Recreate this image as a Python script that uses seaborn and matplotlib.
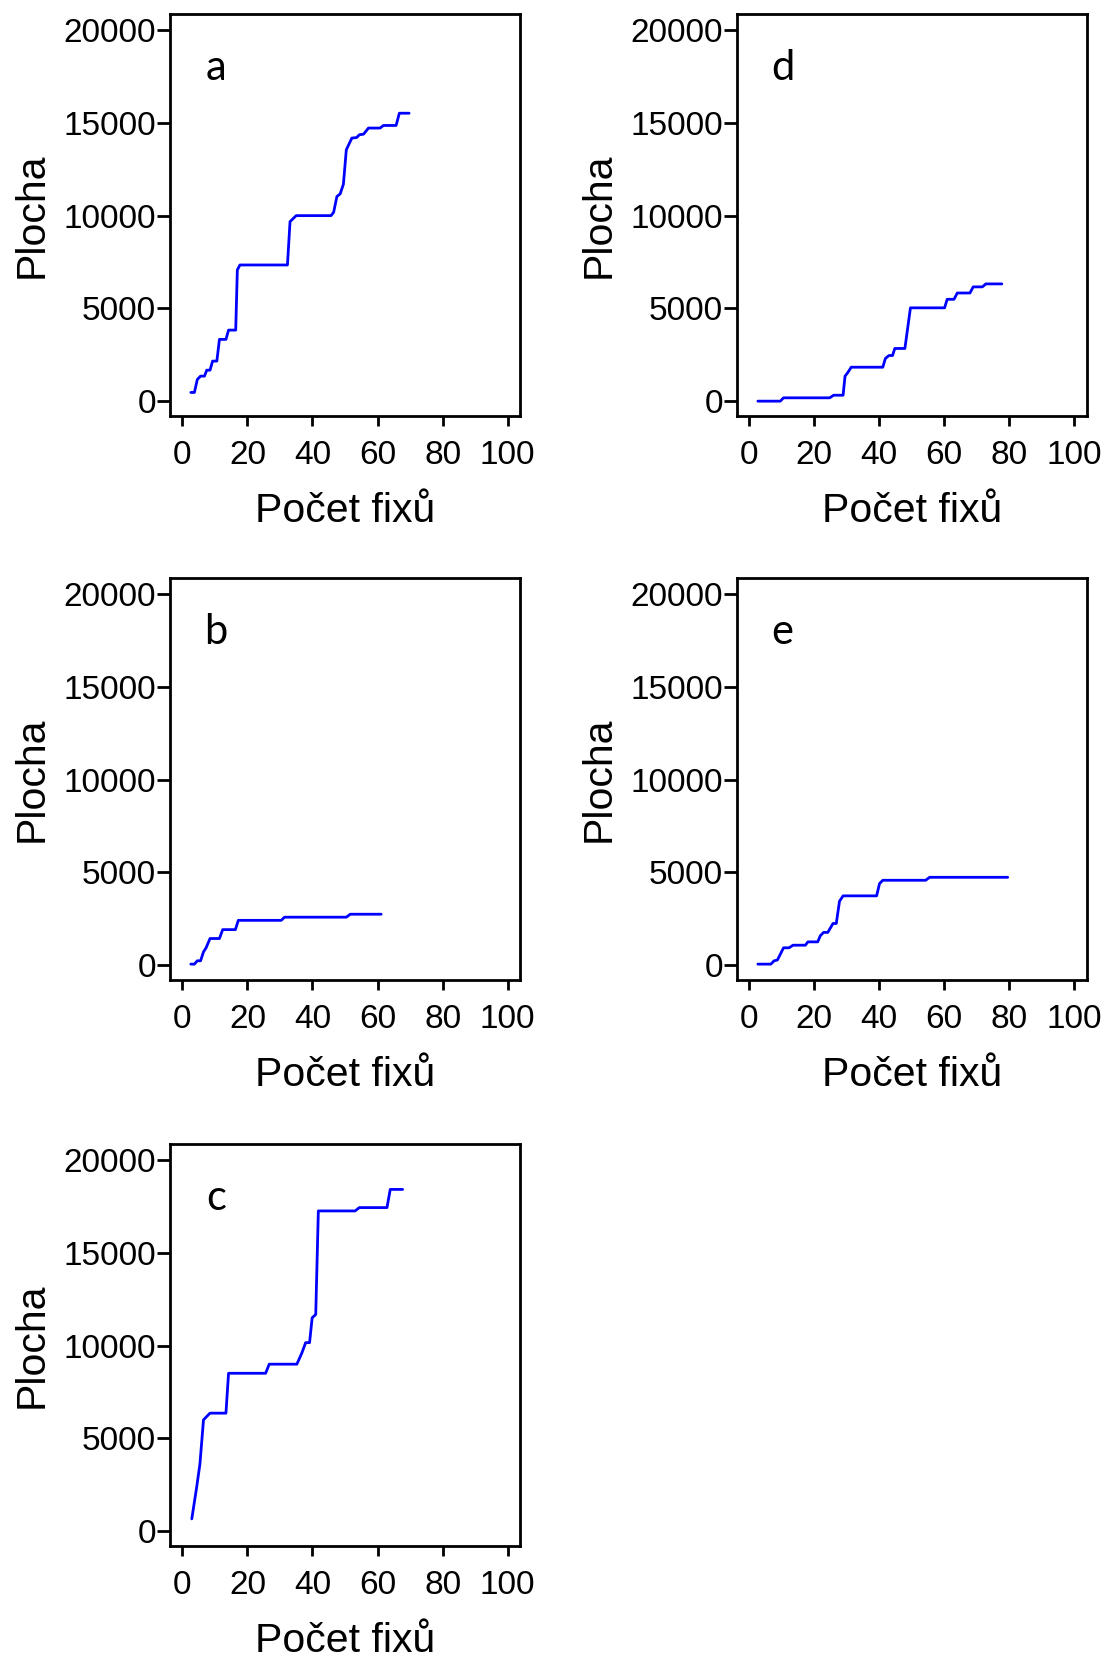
import matplotlib
matplotlib.use("Agg")
import matplotlib.pyplot as plt
import seaborn as sns
import pandas as pd

# Cumulative area vs number of fixations, one panel per subject
a_x = [2.6, 3.7, 4.6, 5.6, 6.8, 7.5, 8.5, 9.3, 10.6, 11.4, 13.4, 14.2, 16.4, 16.9, 17.7,
       32.3, 33.1, 35.0, 45.7, 46.5, 47.5, 48.5, 49.5, 50.4, 52.1, 53.6, 54.4, 55.7,
       57.2, 60.8, 61.8, 65.7, 66.7, 69.7]
a_y = [470, 470, 1170, 1350, 1350, 1670, 1670, 2160, 2160, 3330, 3330, 3830, 3830, 7070, 7340,
       7340, 9680, 10000, 10000, 10180, 11030, 11170, 11690, 13550, 14180, 14210, 14360, 14390,
       14720, 14720, 14860, 14860, 15520, 15520]

b_x = [2.6, 3.7, 4.6, 5.6, 6.5, 7.3, 8.5, 11.4, 12.4, 16.3, 17.2, 30.4, 31.4, 50.4, 51.6, 61.1]
b_y = [60, 60, 240, 240, 720, 940, 1440, 1440, 1920, 1920, 2420, 2420, 2590, 2590, 2750, 2750]

c_x = [2.9, 4.4, 5.4, 6.5, 8.5, 13.4, 14.2, 25.6, 26.7, 35.2, 36.7, 37.9, 39.1, 39.9, 41.0,
       41.8, 53.1, 54.4, 62.9, 63.9, 67.7]
c_y = [660, 2370, 3620, 6000, 6360, 6360, 8510, 8510, 9000, 9000, 9590, 10160, 10160, 11500,
       11680, 17260, 17260, 17440, 17440, 18420, 18420]

d_x = [2.7, 9.6, 10.6, 24.8, 26.0, 28.9, 29.5, 30.3, 31.4, 41.1, 41.9, 43.0, 44.1, 44.8, 47.9,
       49.6, 60.1, 60.9, 63.0, 64.0, 67.9, 68.9, 71.7, 72.8, 77.7]
d_y = [0, 0, 180, 180, 320, 320, 1350, 1530, 1830, 1830, 2300, 2460, 2460, 2840, 2840,
       5030, 5030, 5490, 5490, 5830, 5830, 6160, 6160, 6320, 6320]

e_x = [2.7, 6.7, 7.7, 8.7, 10.6, 12.3, 13.5, 17.3, 18.1, 21.1, 21.9, 22.9, 24.2, 25.8, 26.8,
       27.8, 28.9, 39.2, 40.1, 41.1, 54.3, 55.5, 79.5]
e_y = [60, 60, 240, 280, 940, 940, 1080, 1080, 1260, 1260, 1590, 1770, 1770, 2250, 2250,
       3450, 3740, 3740, 4400, 4580, 4580, 4740, 4740]

panels = [
    ("a", a_x, a_y, [0.1537, 0.7497, 0.3165, 0.2419]),
    ("b", b_x, b_y, [0.1537, 0.4103, 0.3165, 0.2419]),
    ("c", c_x, c_y, [0.1537, 0.0698, 0.3165, 0.2419]),
    ("d", d_x, d_y, [0.6661, 0.7497, 0.3165, 0.2419]),
    ("e", e_x, e_y, [0.6661, 0.4103, 0.3165, 0.2419]),
]

sns.set_style("ticks")
plt.rcParams["font.family"] = ["Liberation Sans", "DejaVu Sans"]
plt.rcParams["text.color"] = "black"
plt.rcParams["axes.labelcolor"] = "black"
plt.rcParams["xtick.color"] = "black"
plt.rcParams["ytick.color"] = "black"

fig = plt.figure(figsize=(11.06, 16.62), dpi=100)

for letter, xs, ys, pos in panels:
    ax = fig.add_axes(pos)
    df = pd.DataFrame({"fix": xs, "plocha": ys})
    sns.lineplot(data=df, x="fix", y="plocha", estimator=None, sort=False,
                 color="#0000ff", linewidth=2.0, ax=ax)
    ax.set_xlim(-3.8, 103.8)
    ax.set_ylim(-800, 20870)
    ax.set_xticks([0, 20, 40, 60, 80, 100])
    ax.set_yticks([0, 5000, 10000, 15000, 20000])
    ax.tick_params(axis="y", length=9.5, width=2, pad=0.5, labelsize=24)
    ax.tick_params(axis="x", length=7.5, width=2, pad=10, labelsize=24)
    for sp in ax.spines.values():
        sp.set_visible(True)
        sp.set_linewidth(2)
        sp.set_color("black")
    ax.set_xlabel("Počet fixů", fontsize=29.5, labelpad=15)
    ax.set_ylabel("Plocha", fontsize=29.5, labelpad=9)
    ax.text(0.131, 0.866, letter, transform=ax.transAxes, fontsize=30,
            family=["Lato", "DejaVu Sans"], ha="center", va="center")

fig.savefig("out.png", dpi=100)
